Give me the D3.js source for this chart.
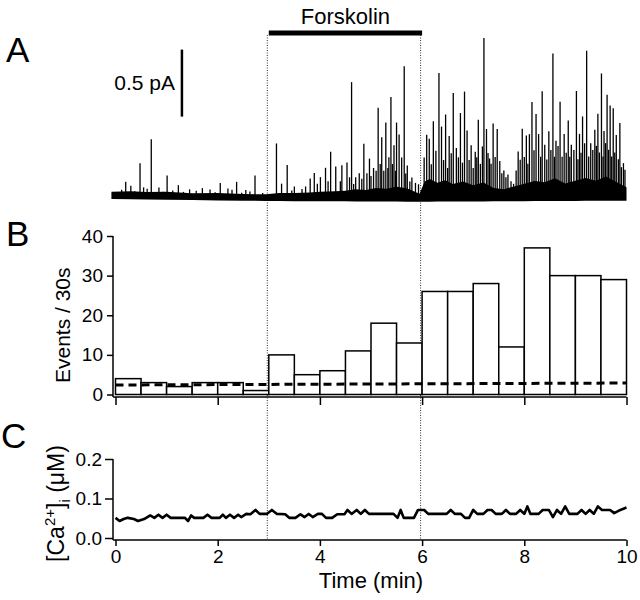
<!DOCTYPE html>
<html>
<head>
<meta charset="utf-8">
<script src="https://cdn.jsdelivr.net/npm/d3@7"></script>
<style>
  body { margin: 0; background: #fff; }
  svg text { font-family: "Liberation Sans", Arial, Helvetica, sans-serif; fill: #000; }
</style>
</head>
<body>
<div id="root"></div>
<script>
// ---- data ----
// A: spontaneous current trace, larger spikes (min, pA above baseline)
const spikeTime = [0.20, 0.30, 0.48, 0.55, 0.70, 0.85, 1.01, 1.23, 1.45, 1.70, 1.85, 2.05, 2.20, 2.37, 2.55, 2.73,
  3.15, 3.25, 3.36, 3.50, 3.65, 3.81, 3.89, 4.01, 4.11, 4.21, 4.31, 4.43, 4.53, 4.62, 4.70, 4.77, 4.86, 4.97, 5.05,
  5.14, 5.21, 5.29, 5.35, 5.39, 5.45, 5.50, 5.55, 5.65, 5.71, 5.80, 5.87,
  6.09, 6.14, 6.22, 6.33, 6.38, 6.46, 6.53, 6.61, 6.67, 6.75, 6.83, 6.88, 6.96, 7.04, 7.10, 7.21, 7.26, 7.32, 7.39,
  7.47, 7.52, 7.60, 7.68, 7.79, 7.88, 7.96, 8.04, 8.10, 8.15, 8.23, 8.28, 8.35, 8.40, 8.48, 8.56, 8.62, 8.70, 8.78,
  8.86, 8.92, 9.02, 9.08, 9.14, 9.22, 9.30, 9.38, 9.44, 9.51, 9.56, 9.62, 9.68, 9.74, 9.80, 9.87, 9.94];
const spikeAmp = [0.10, 0.07, 0.24, 0.06, 0.42, 0.06, 0.15, 0.08, 0.05, 0.06, 0.05, 0.10, 0.06, 0.11, 0.05, 0.16,
  0.40, 0.10, 0.24, 0.08, 0.06, 0.14, 0.18, 0.15, 0.22, 0.34, 0.23, 0.24, 0.26, 0.86, 0.15, 0.18, 0.40, 0.29, 0.22,
  0.67, 0.45, 0.56, 0.30, 0.75, 0.39, 0.56, 0.47, 0.98, 0.24, 0.15, 0.11,
  0.47, 0.44, 0.57, 0.93, 0.53, 0.62, 0.46, 0.78, 0.37, 0.63, 0.79, 0.50, 0.39, 0.34, 0.58, 1.19, 0.51, 0.29, 0.55,
  0.51, 0.27, 0.20, 0.17, 0.10, 0.34, 0.51, 0.46, 0.47, 0.71, 0.62, 0.47, 0.79, 0.39, 0.49, 1.07, 0.42, 0.71, 0.47,
  0.57, 0.39, 0.79, 0.47, 0.60, 1.09, 0.40, 0.50, 0.62, 0.92, 0.49, 0.76, 0.68, 0.66, 0.46, 0.55, 0.25];
// smaller events filling the dense part of the trace
const smallTime = [0.12, 0.38, 0.62, 0.93, 1.12, 1.33, 1.58, 1.95, 2.28, 2.47, 2.63, 2.88,
  3.45, 3.72, 3.95, 4.16, 4.40, 4.58, 4.66, 4.82, 4.92, 5.00, 5.10, 5.18, 5.25, 5.33, 5.42, 5.48, 5.60, 5.68, 5.76, 5.93,
  6.04, 6.18, 6.27, 6.42, 6.50, 6.57, 6.71, 6.79, 6.92, 7.00, 7.07, 7.14, 7.18, 7.29, 7.35, 7.43, 7.56, 7.64, 7.74,
  7.84, 7.92, 8.00, 8.07, 8.19, 8.32, 8.44, 8.52, 8.59, 8.66, 8.74, 8.82, 8.89, 8.97, 9.05, 9.11, 9.18, 9.26, 9.34,
  9.41, 9.47, 9.54, 9.59, 9.65, 9.71, 9.77, 9.84, 9.90, 9.97];
const smallAmp = [0.04, 0.03, 0.05, 0.03, 0.04, 0.03, 0.04, 0.03, 0.05, 0.03, 0.04, 0.03,
  0.05, 0.08, 0.10, 0.12, 0.12, 0.15, 0.10, 0.14, 0.18, 0.16, 0.20, 0.25, 0.20, 0.22, 0.25, 0.20, 0.30, 0.18, 0.12, 0.10,
  0.30, 0.25, 0.35, 0.28, 0.22, 0.33, 0.30, 0.26, 0.28, 0.22, 0.30, 0.25, 0.38, 0.33, 0.25, 0.30, 0.18, 0.15, 0.12,
  0.20, 0.28, 0.30, 0.25, 0.35, 0.30, 0.28, 0.35, 0.30, 0.38, 0.30, 0.33, 0.30, 0.35, 0.28, 0.33, 0.40, 0.30, 0.35,
  0.38, 0.33, 0.30, 0.40, 0.35, 0.30, 0.33, 0.28, 0.22, 0.20];
// baseline drift of the trace (pA)
const baseTime = [-0.08, 3, 6, 10];
const baseLevel = [0, -0.015, -0.02, -0.012];
// upper edge of the noise / small-event band (pA above baseline)
const envTime = [-0.08, 0.3, 0.6, 1.0, 1.5, 2.0, 2.5, 2.95, 3.2, 3.5, 3.8, 4.0, 4.3, 4.5, 4.7, 4.9, 5.1, 5.3, 5.5, 5.7,
  5.95, 6.05, 6.15, 6.3, 6.45, 6.6, 6.8, 7.0, 7.2, 7.4, 7.6, 7.8, 8.0, 8.2, 8.4, 8.6, 8.8, 9.0, 9.2, 9.4, 9.6, 9.8, 10.0];
const envTop = [0.025, 0.03, 0.025, 0.03, 0.02, 0.025, 0.02, 0.02, 0.03, 0.03, 0.035, 0.04, 0.045, 0.05, 0.06, 0.055,
  0.07, 0.065, 0.08, 0.07, 0.03, 0.12, 0.14, 0.11, 0.13, 0.10, 0.12, 0.09, 0.11, 0.07, 0.06, 0.08, 0.10, 0.12, 0.11,
  0.14, 0.10, 0.12, 0.14, 0.12, 0.15, 0.11, 0.07];

// B: events per 30 s bin
const binStart = [0, 0.5, 1, 1.5, 2, 2.5, 3, 3.5, 4, 4.5, 5, 5.5, 6, 6.5, 7, 7.5, 8, 8.5, 9, 9.5];
const eventCounts = [4, 3, 2, 3, 3, 1, 10, 5, 6, 11, 18, 13, 26, 26, 28, 12, 37, 30, 30, 29];
const dashTime = [0, 10];
const dashLevel = [2.4, 2.9];

// C: intracellular calcium (uM)
const caTime = [0, 0.08, 0.16, 0.24, 0.36, 0.44, 0.56, 0.68, 0.76, 0.84, 0.92, 1.00, 1.08, 1.36, 1.42, 1.48, 1.54, 1.72,
  1.80, 1.88, 2.04, 2.10, 2.16, 2.24, 2.32, 2.40, 2.46, 2.56, 2.64, 2.74, 2.82, 2.96, 3.06, 3.16, 3.32, 3.40, 3.52,
  3.62, 3.70, 3.78, 3.86, 3.96, 4.04, 4.12, 4.24, 4.34, 4.48, 4.54, 4.62, 4.72, 4.80, 4.88, 4.96, 5.44, 5.52, 5.58,
  5.64, 5.84, 5.92, 6.04, 6.12, 6.48, 6.56, 6.64, 6.76, 6.84, 6.92, 7.00, 7.08, 7.20, 7.28, 7.36, 7.44, 7.56, 7.64,
  7.72, 7.84, 7.92, 8.00, 8.06, 8.12, 8.28, 8.36, 8.48, 8.56, 8.64, 8.72, 8.80, 8.88, 9.04, 9.12, 9.20, 9.28, 9.36,
  9.44, 9.52, 9.68, 9.76, 9.88, 10.00];
const caValue = [0.051, 0.043, 0.048, 0.051, 0.048, 0.043, 0.048, 0.057, 0.051, 0.059, 0.051, 0.059, 0.051, 0.051,
  0.043, 0.057, 0.051, 0.051, 0.059, 0.051, 0.051, 0.059, 0.051, 0.059, 0.051, 0.059, 0.053, 0.061, 0.060, 0.071,
  0.061, 0.061, 0.071, 0.061, 0.060, 0.051, 0.051, 0.060, 0.053, 0.061, 0.053, 0.061, 0.061, 0.051, 0.051, 0.060,
  0.060, 0.071, 0.061, 0.071, 0.061, 0.071, 0.061, 0.061, 0.051, 0.071, 0.051, 0.051, 0.071, 0.071, 0.061, 0.061,
  0.071, 0.061, 0.061, 0.051, 0.051, 0.071, 0.061, 0.061, 0.071, 0.071, 0.061, 0.061, 0.071, 0.061, 0.061, 0.071,
  0.061, 0.080, 0.061, 0.061, 0.071, 0.071, 0.053, 0.071, 0.061, 0.080, 0.061, 0.061, 0.071, 0.061, 0.071, 0.061,
  0.080, 0.071, 0.071, 0.063, 0.071, 0.077];

const timeTicks = [0, 2, 4, 6, 8, 10];
const countTicks = [0, 10, 20, 30, 40];
const caTicks = [0, 0.1, 0.2];
const drugStart = 3, drugEnd = 6;

// ---- layout ----
const W = 640, H = 600;
const svg = d3.select('#root').append('svg').attr('width', W).attr('height', H);

const x = d3.scaleLinear().domain([0, 10]).range([115.5, 626.5]);
const yA = d3.scaleLinear().domain([0, 1]).range([195, 61]);
const yB = d3.scaleLinear().domain([0, 40]).range([394.5, 236]);
const yC = d3.scaleLinear().domain([0, 0.2]).range([538, 459]);
const axisLeftX = 113;

// ---- drug bar + dotted guide lines ----
svg.append('rect')
  .attr('x', x(drugStart)).attr('y', 30.5)
  .attr('width', x(drugEnd) - x(drugStart)).attr('height', 5)
  .attr('fill', '#000');
svg.append('text')
  .attr('x', (x(drugStart) + x(drugEnd)) / 2).attr('y', 24)
  .attr('text-anchor', 'middle').attr('font-size', 22)
  .text('Forskolin');
svg.selectAll('.guide').data([drugStart, drugEnd]).enter().append('line')
  .attr('class', 'guide')
  .attr('x1', d => x(d) - 1.5).attr('x2', d => x(d) - 1.5)
  .attr('y1', 35).attr('y2', 540)
  .attr('stroke', '#333').attr('stroke-width', 1).attr('stroke-dasharray', '1,1.5');

// ---- panel letters ----
svg.selectAll('.panel').data([['A', 6, 62], ['B', 6, 246], ['C', 1, 448]]).enter().append('text')
  .attr('x', d => d[1]).attr('y', d => d[2])
  .attr('font-size', 35)
  .text(d => d[0]);

// ---- A: current trace ----
const base = d3.scaleLinear().domain(baseTime).range(baseLevel);
const band = envTime.map((t, i) => ({ t: t, top: envTop[i] }));
svg.append('path')
  .datum(band)
  .attr('fill', '#000')
  .attr('d', d3.area()
    .x(d => x(d.t))
    .y0(d => yA(base(d.t) - 0.03))
    .y1(d => yA(base(d.t) + d.top)));

const spikes = spikeTime.map((t, i) => ({ t: t, amp: spikeAmp[i] }))
  .concat(smallTime.map((t, i) => ({ t: t, amp: smallAmp[i] })));
svg.selectAll('.spike').data(spikes).enter().append('line')
  .attr('class', 'spike')
  .attr('x1', d => x(d.t)).attr('x2', d => x(d.t))
  .attr('y1', d => yA(base(d.t))).attr('y2', d => yA(base(d.t) + d.amp))
  .attr('stroke', '#000').attr('stroke-width', 1.3);

// scale bar 0.5 pA
const sbT = 1.3, sbBase = 0.585;
svg.append('line')
  .attr('x1', x(sbT)).attr('x2', x(sbT))
  .attr('y1', yA(sbBase)).attr('y2', yA(sbBase + 0.5))
  .attr('stroke', '#000').attr('stroke-width', 2.5);
svg.append('text')
  .attr('x', x(sbT) - 7).attr('y', yA(sbBase + 0.25) + 7)
  .attr('text-anchor', 'end').attr('font-size', 21)
  .text('0.5 pA');

// ---- B: histogram ----
const gB = svg.append('g');
gB.selectAll('.bar').data(binStart.map((t, i) => ({ t: t, n: eventCounts[i] }))).enter().append('rect')
  .attr('class', 'bar')
  .attr('x', d => x(d.t)).attr('width', d => x(d.t + 0.5) - x(d.t))
  .attr('y', d => yB(d.n)).attr('height', d => yB(0) - yB(d.n))
  .attr('fill', '#fff').attr('stroke', '#000').attr('stroke-width', 1.5);

gB.append('path')
  .datum(dashTime.map((t, i) => [t, dashLevel[i]]))
  .attr('fill', 'none').attr('stroke', '#000').attr('stroke-width', 3)
  .attr('stroke-dasharray', '8,5')
  .attr('d', d3.line().x(d => x(d[0])).y(d => yB(d[1])));

const yAxisB = gB.append('g')
  .attr('transform', `translate(${axisLeftX},0)`)
  .call(d3.axisLeft(yB).tickValues(countTicks).tickSize(6).tickSizeOuter(0).tickPadding(4));
yAxisB.select('.domain').attr('d', `M0,${yB(40)}V397`);

const xAxisB = gB.append('g')
  .attr('transform', 'translate(0,397)')
  .call(d3.axisBottom(x).tickValues(timeTicks).tickSize(8).tickSizeOuter(0).tickFormat(''));
xAxisB.select('.domain').attr('d', `M${axisLeftX},0H${x(10)}`);

gB.append('text')
  .attr('transform', `translate(70,${(yB(0) + yB(40)) / 2 + 10}) rotate(-90)`)
  .attr('text-anchor', 'middle').attr('font-size', 21)
  .text('Events / 30s');

// ---- C: calcium ----
const gC = svg.append('g');
gC.append('path')
  .datum(caTime.map((t, i) => [t, caValue[i]]))
  .attr('fill', 'none').attr('stroke', '#000').attr('stroke-width', 2.6)
  .attr('stroke-linejoin', 'round')
  .attr('d', d3.line().x(d => x(d[0])).y(d => yC(d[1])));

const yAxisC = gC.append('g')
  .attr('transform', `translate(${axisLeftX},0)`)
  .call(d3.axisLeft(yC).tickValues(caTicks).tickSize(8).tickSizeOuter(0).tickPadding(3).tickFormat(d3.format('.1f')));
yAxisC.select('.domain').attr('d', `M0,${yC(0.2)}V540`);

const xAxisC = gC.append('g')
  .attr('transform', 'translate(0,540)')
  .call(d3.axisBottom(x).tickValues(timeTicks).tickSize(6).tickSizeOuter(0).tickPadding(4));
xAxisC.select('.domain').attr('d', `M${axisLeftX},0H${x(10)}`);

gC.append('text')
  .attr('x', x(5)).attr('y', 588)
  .attr('text-anchor', 'middle').attr('font-size', 22)
  .text('Time (min)');

const caLabel = gC.append('text')
  .attr('transform', `translate(64,${(yC(0) + yC(0.2)) / 2 + 5}) rotate(-90)`)
  .attr('text-anchor', 'middle').attr('font-size', 23);
caLabel.append('tspan').text('[Ca');
caLabel.append('tspan').attr('dy', -9).attr('font-size', 15).text('2+');
caLabel.append('tspan').attr('dy', 9).text(']');
caLabel.append('tspan').attr('dy', 6).attr('font-size', 15).text('i');
caLabel.append('tspan').attr('dy', -6).text('  (\u03BCM)');

// shared axis styling
svg.selectAll('.tick text').attr('font-size', 19).attr('font-family', '"Liberation Sans", Arial, sans-serif');
svg.selectAll('.tick line, .domain').attr('stroke', '#000').attr('stroke-width', 1.5);
</script>
</body>
</html>
